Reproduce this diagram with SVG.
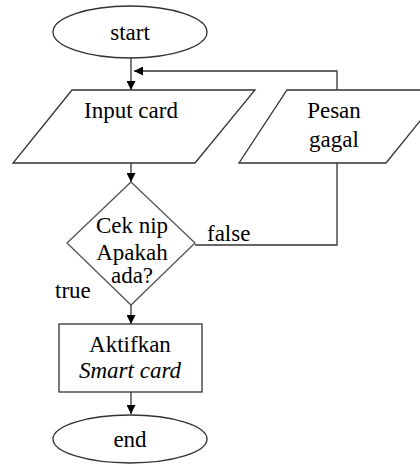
<svg xmlns="http://www.w3.org/2000/svg" width="420" height="464" viewBox="0 0 420 464">
  <style>
    .shape { fill: #fff; stroke: #333; stroke-width: 1.3; }
    .dia { fill: #fff; stroke: #555; stroke-width: 1.3; }
    .conn { fill: none; stroke: #333; stroke-width: 1.3; }
    text { font-family: 'Liberation Serif', 'DejaVu Serif', serif; font-size: 23px; fill: #000; }
    .c { text-anchor: middle; }
    .i { font-style: italic; }
  </style>
  <defs>
    <marker id="arrow" viewBox="0 0 10 10" refX="10" refY="5" markerWidth="9" markerHeight="9" markerUnits="userSpaceOnUse" orient="auto">
      <path d="M0,0 L10,5 L0,10 z" fill="#000"/>
    </marker>
  </defs>

  <!-- connectors and branch labels -->
  <g id="connectors">
    <line class="conn" x1="131" y1="58" x2="131" y2="90" marker-end="url(#arrow)"/>
    <polyline class="conn" points="337,90 337,71 134,71" marker-end="url(#arrow)"/>
    <line class="conn" x1="131" y1="163" x2="131" y2="182" marker-end="url(#arrow)"/>
    <polyline class="conn" points="195,245 337,245 337,163"/>
    <line class="conn" x1="131" y1="305" x2="131" y2="324" marker-end="url(#arrow)"/>
    <line class="conn" x1="131" y1="392" x2="131" y2="414" marker-end="url(#arrow)"/>
    <text x="207" y="241">false</text>
    <text x="55" y="298">true</text>
  </g>

  <g id="start">
    <ellipse class="shape" cx="130" cy="32" rx="77" ry="26"/>
    <text class="c" x="130" y="40">start</text>
  </g>

  <g id="input-card">
    <polygon class="shape" points="72,90 255,90 195,163 13,163"/>
    <text class="c" x="131" y="118">Input card</text>
  </g>

  <g id="pesan-gagal">
    <polygon class="shape" points="287,90 445,90 386,163 239,163"/>
    <text class="c" x="334" y="118">Pesan</text>
    <text class="c" x="334" y="147">gagal</text>
  </g>

  <g id="cek-nip">
    <polygon class="dia" points="131,182 195,243 131,305 67,243"/>
    <text class="c" x="132" y="233">Cek nip</text>
    <text class="c" x="132" y="260">Apakah</text>
    <text class="c" x="132" y="283">ada?</text>
  </g>

  <g id="aktifkan">
    <rect class="shape" x="59" y="324" width="143" height="68"/>
    <text class="c" x="130" y="352">Aktifkan</text>
    <text class="c i" x="130" y="378">Smart card</text>
  </g>

  <g id="end">
    <ellipse class="shape" cx="130" cy="439" rx="77" ry="24"/>
    <text class="c" x="130" y="447">end</text>
  </g>
</svg>
